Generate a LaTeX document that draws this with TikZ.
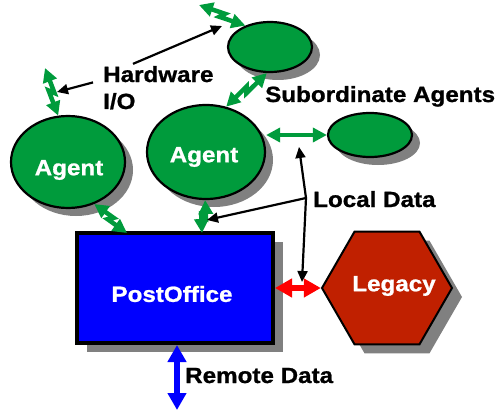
\documentclass[tikz,border=0pt]{standalone}
\usepackage{fontspec}
\usetikzlibrary{arrows.meta,shapes.geometric,shadows,calc}
\newfontfamily\tagfont[FakeStretch=1.1,FakeBold=1]{Liberation Sans Bold}
\definecolor{agentgreen}{RGB}{0,155,60}
\definecolor{officeblue}{RGB}{0,0,255}
\definecolor{legacyred}{RGB}{192,32,0}
\definecolor{shadowgray}{RGB}{128,128,128}

\tikzset{
  tag/.style={font=\tagfont\fontsize{22}{26}\selectfont, inner sep=0pt},
  shade8/.style={drop shadow={shadow xshift=8pt, shadow yshift=-8pt, fill=shadowgray, opacity=1}},
  agentshape/.style={ellipse, draw=black, line width=2.2pt, fill=agentgreen, shade8, inner sep=0pt},
  ghead/.tip={Triangle[length=14pt,width=14pt]},
  bhead/.tip={Triangle[length=17pt,width=18pt]},
  garrow/.style={draw=agentgreen, line width=4.5pt, ghead-ghead},
  pointer/.style={draw=black, line width=2.2pt, -{Triangle[length=11pt,width=10pt]}},
}
% lightning style double arrow
\newcommand{\zap}[2]{%
  \draw[garrow] (#1) -- ($(#1)!0.54!(#2)!2.5pt!90:(#2)$) -- ($(#1)!0.46!(#2)!2.5pt!-90:(#2)$) -- (#2);}

\begin{document}
\begin{tikzpicture}[x=1pt, y=-1pt]
    \useasboundingbox (0,0) rectangle (501,412);

    % agents
    \node[agentshape, minimum width=114pt, minimum height=92pt] (agentA) at (68,162) {};
    \node[agentshape, minimum width=118pt, minimum height=94pt] (agentB) at (206,152) {};
    \node[agentshape, minimum width=84pt, minimum height=50pt] (subA) at (270,47) {};
    \node[agentshape, minimum width=84pt, minimum height=44pt] (subB) at (370,135) {};
    \node[tag, white] (agentAtxt) at (69,170) {Agent};
    \node[tag, white] (agentBtxt) at (204,157) {Agent};

    % post office and legacy
    \node[draw=black, line width=4pt, fill=officeblue, minimum width=196pt, minimum height=110pt,
          drop shadow={shadow xshift=10pt, shadow yshift=-9pt, fill=shadowgray, opacity=1}]
          (post) at (175,288) {};
    \node[tag, white] (posttxt) at (172,294) {PostOffice};
    \node[regular polygon, regular polygon sides=6, minimum size=130pt, inner sep=0pt,
          draw=black, line width=2pt, fill=legacyred,
          drop shadow={shadow xshift=10pt, shadow yshift=-9pt, fill=shadowgray, opacity=1}]
          (legacy) at (387,288) {};
    \node[tag, white] (legacytxt) at (394,286) {Legacy};

    % labels
    \node[tag, anchor=base west] (hwA) at (103,82) {Hardware};
    \node[tag, anchor=base west] (hwB) at (103,109) {I/O};
    \node[tag, anchor=base west] (subtxt) at (265,102) {Subordinate Agents};
    \node[tag, anchor=base west] (ldtxt) at (313,207) {Local Data};
    \node[tag, anchor=base west] (rdtxt) at (185,383) {Remote Data};

    % free ends
    \coordinate (ioA) at (199,5);
    \coordinate (ioB) at (45,68);
    \coordinate (remote) at (177,410);
    \coordinate (ldFork) at (306,198);

    % green links
    \zap{ioA}{subA.139}
    \zap{ioB}{agentA.102}
    \zap{subA.-97}{agentB.66}
    \draw[garrow] (agentB.east |- subB.west) -- (subB.west);
    \zap{agentA.-58}{$(post.north west)+(52,2)$}
    \zap{agentB.-91}{$(post.north west)+(127,2)$}

    % data links
    \draw[draw=red, line width=6pt, bhead-bhead] (post.east) -- (legacy.west);
    \draw[draw=officeblue, line width=6pt, bhead-bhead] ($(post.south)+(2,0)$) -- (remote);

    % pointers
    \draw[pointer] ($(hwA.north west)+(30,-2)$) -- (222,26);
    \draw[pointer] ($(hwA.south west)+(-10,0)$) -- (57,92);
    \draw[pointer] (ldFork) -- (207,220);
    \draw[pointer] (ldFork) -- (299,147);
    \draw[pointer] (ldFork) -- (302,282);
\end{tikzpicture}
\end{document}
